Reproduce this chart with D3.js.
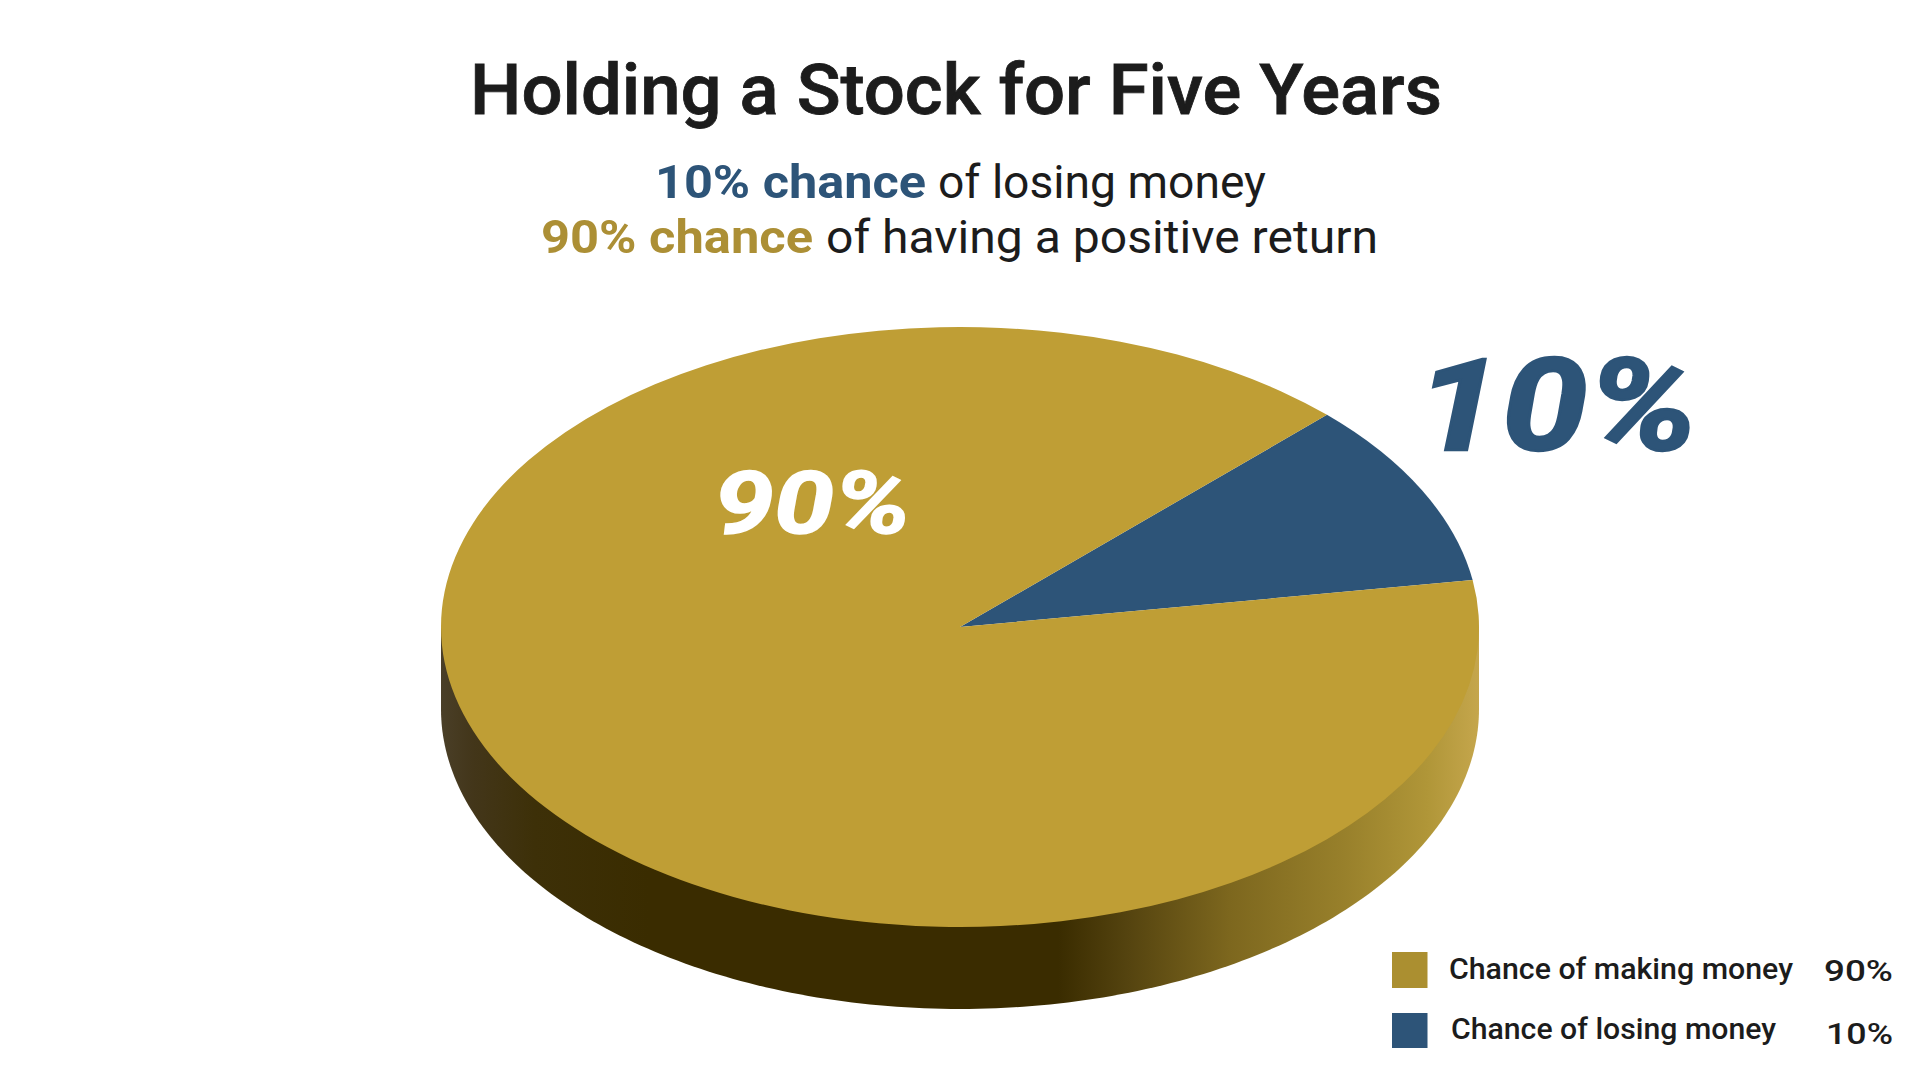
<!DOCTYPE html>
<html><head><meta charset="utf-8">
<script src="https://cdn.jsdelivr.net/npm/d3@7"></script>
<style>
html,body{margin:0;padding:0;background:#fff;overflow:hidden}
svg{display:block}
text{font-family:Roboto,sans-serif}
</style></head><body>
<script>
const categories = ["Chance of losing money", "Chance of making money"];
const values = [10, 90];
const valueLabels = ["10%", "90%"];
const sliceColors = ["#2d5478", "#bf9e35"];
const legendOrder = [1, 0];
const legendColors = ["#ab8f30", "#2d5478"];
const titleText = "Holding a Stock for Five Years";

const W = 1920, H = 1080;
const cx = 960, cy = 627, rx = 519, ry = 300, depth = 82;
const svg = d3.select("body").append("svg").attr("width", W).attr("height", H);
svg.append("rect").attr("width", W).attr("height", H).attr("fill", "#fff");

const stops = [[0,"#4a3f28"],[0.03,"#43361a"],[0.09,"#3d3008"],[0.2,"#3a2c00"],[0.595,"#3a2c00"],[0.66,"#54430f"],[0.76,"#7d671e"],[0.87,"#98802b"],[0.95,"#b09638"],[1,"#c5a64c"]];
const grad = svg.append("defs").append("linearGradient").attr("id","side")
  .attr("gradientUnits","userSpaceOnUse").attr("x1",cx-rx).attr("x2",cx+rx).attr("y1",0).attr("y2",0);
grad.selectAll("stop").data(stops).join("stop").attr("offset",d=>d[0]).attr("stop-color",d=>d[1]);

const side = d3.path();
side.moveTo(cx-rx, cy);
side.lineTo(cx-rx, cy+depth);
const steps = 180;
const ang = d3.scaleLinear().domain([0,steps]).range([Math.PI,0]);
for (let i=0;i<=steps;i++){ const a=ang(i); side.lineTo(cx+rx*Math.cos(a), cy+depth+ry*Math.sin(a)); }
side.lineTo(cx+rx, cy);
side.closePath();
svg.append("path").attr("d",side.toString()).attr("fill","url(#side)");

const pie = d3.pie().sort(null).startAngle(Math.PI/4).endAngle(Math.PI/4+2*Math.PI);
const arc = d3.arc().innerRadius(0).outerRadius(rx);
svg.append("g").attr("transform",`translate(${cx},${cy}) scale(1,${ry/rx})`)
  .selectAll("path").data(pie(values)).join("path")
  .attr("d",arc).attr("fill",(d,i)=>sliceColors[i]);

function put(t,x0,x1,base,size,fill,weight,style,stroke){
  const el = svg.append("text").attr("x",x0).attr("y",base).attr("font-size",size)
    .attr("fill",fill).attr("font-weight",weight||400).text(t)
    .attr("textLength",x1-x0).attr("lengthAdjust","spacingAndGlyphs");
  if(style) el.attr("font-style",style);
  if(stroke) el.attr("stroke",fill).attr("stroke-width",stroke);
  return el;
}
const ink="#1c1c1c";
put(titleText,470,1442,114,70,ink,500,null,0.8);
put(valueLabels[0]+" chance",655,926,198,46,sliceColors[0],700);
put("of losing money",938,1266,198,46,ink,400);
put(valueLabels[1]+" chance",541,813,253,46,"#ac8f35",700);
put("of having a positive return",826,1378,253,46,ink,400);

put(valueLabels[0],1416,1698,450,128,sliceColors[0],700,"italic",2.5);
put(valueLabels[1],714,911,533,87,"#fff",700,"italic",1.5);

const legend = [
 {y:952,h:36,tx:1449,tx1:1793,tb:979,vx:1824,vb:981},
 {y:1013,h:35,tx:1451,tx1:1776,tb:1039,vx:1826,vb:1044}
];
legend.forEach((l,i)=>{
  const k=legendOrder[i];
  svg.append("rect").attr("x",1392).attr("y",l.y).attr("width",35.5).attr("height",l.h).attr("fill",legendColors[i]);
  put(categories[k],l.tx,l.tx1,l.tb,29,ink,500);
  put(valueLabels[k],l.vx,1893,l.vb,30,ink,500);
});
</script></body></html>
